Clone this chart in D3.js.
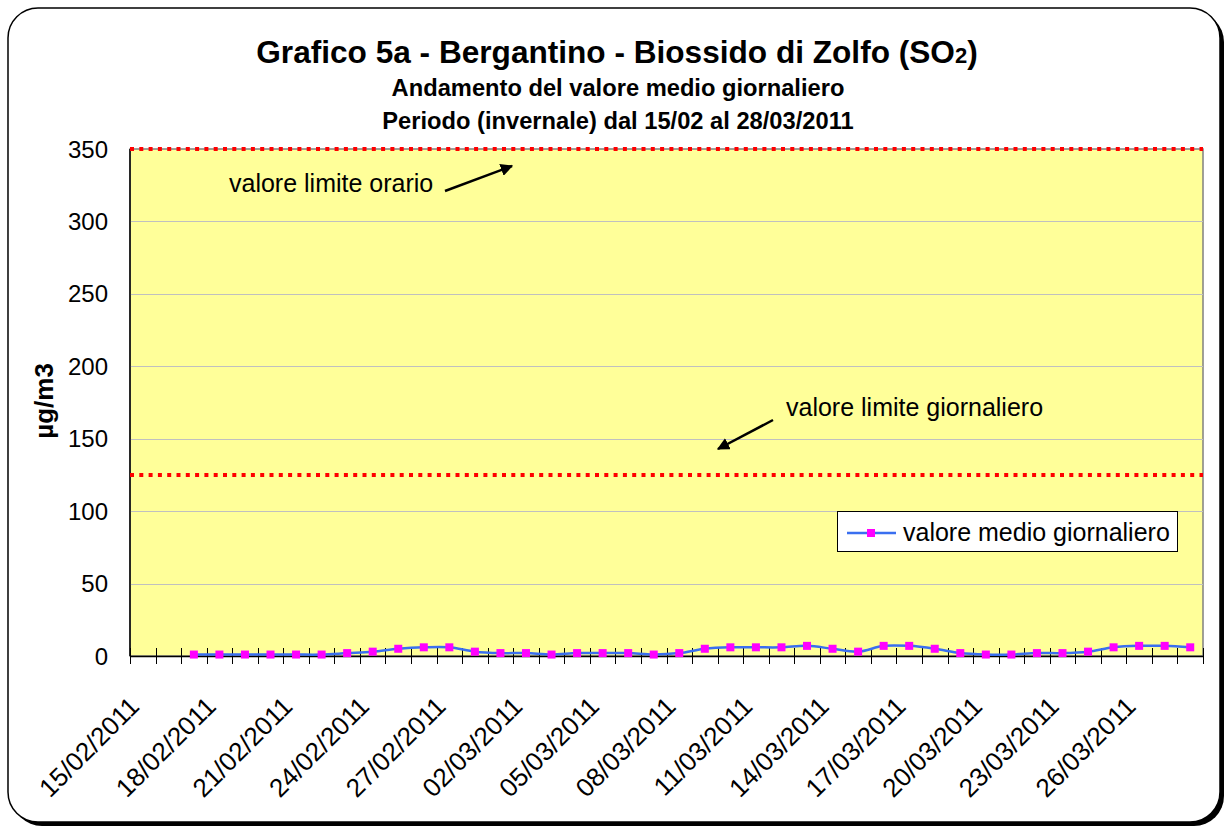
<!DOCTYPE html>
<html>
<head>
	<meta charset="utf-8">
	<title>Grafico 5a - Bergantino - SO2</title>
	<script src="https://cdn.jsdelivr.net/npm/d3@7"></script>
	<style type="text/css">
		body {
			margin: 0;
			background: #ffffff;
		}
		text {
			font-family: "Liberation Sans", Arial, sans-serif;
			fill: #000000;
		}
		.grid line {
			stroke: #c0c0c0;
			stroke-width: 1;
			shape-rendering: crispEdges;
		}
	</style>
</head>
<body>
	<script type="text/javascript">
		// categorie (giorni) e valori medi giornalieri
		var days = ["15/02/2011", "16/02/2011", "17/02/2011", "18/02/2011", "19/02/2011", "20/02/2011",
			"21/02/2011", "22/02/2011", "23/02/2011", "24/02/2011", "25/02/2011", "26/02/2011",
			"27/02/2011", "28/02/2011", "01/03/2011", "02/03/2011", "03/03/2011", "04/03/2011",
			"05/03/2011", "06/03/2011", "07/03/2011", "08/03/2011", "09/03/2011", "10/03/2011",
			"11/03/2011", "12/03/2011", "13/03/2011", "14/03/2011", "15/03/2011", "16/03/2011",
			"17/03/2011", "18/03/2011", "19/03/2011", "20/03/2011", "21/03/2011", "22/03/2011",
			"23/03/2011", "24/03/2011", "25/03/2011", "26/03/2011", "27/03/2011", "28/03/2011"];
		var mediaGiornaliera = [null, null, 1, 1, 1, 1, 1, 1, 2, 3, 5, 6, 6, 3, 2, 2, 1, 2, 2, 2, 1,
			2, 5, 6, 6, 6, 7, 5, 3, 7, 7, 5, 2, 1, 1, 2, 2, 3, 6, 7, 7, 6];
		var tickLabels = ["15/02/2011", "18/02/2011", "21/02/2011", "24/02/2011", "27/02/2011",
			"02/03/2011", "05/03/2011", "08/03/2011", "11/03/2011", "14/03/2011", "17/03/2011",
			"20/03/2011", "23/03/2011", "26/03/2011"];
		var yTicks = [0, 50, 100, 150, 200, 250, 300, 350];
		var limiteOrario = 350,
			limiteGiornaliero = 125;

		var width = 1229,
			height = 829,
			plotLeft = 130,
			plotRight = 1203,
			plotTop = 149,
			plotBottom = 656;

		var svg = d3.select("body")
					.append("svg")
					.attr("width", width)
					.attr("height", height);

		// cornice con ombra
		svg.append("rect")
			.attr("x", 12).attr("y", 12)
			.attr("width", 1212).attr("height", 814)
			.attr("rx", 30).attr("ry", 30)
			.style("fill", "#000000");
		svg.append("rect")
			.attr("x", 8).attr("y", 8)
			.attr("width", 1212).attr("height", 814)
			.attr("rx", 30).attr("ry", 30)
			.style("fill", "#ffffff")
			.style("stroke", "#000000")
			.style("stroke-width", 1.5);

		var xScale = d3.scaleBand()
			.domain(days)
			.range([plotLeft, plotRight]);
		var yScale = d3.scaleLinear()
			.domain([0, 350])
			.range([plotBottom, plotTop]);

		// area del grafico
		svg.append("rect")
			.attr("x", plotLeft).attr("y", plotTop)
			.attr("width", plotRight - plotLeft).attr("height", plotBottom - plotTop)
			.style("fill", "#ffff99")
			.style("stroke", "#808080")
			.style("stroke-width", 1.5);

		svg.append("g")
			.attr("class", "grid")
			.selectAll("line")
			.data(yTicks.filter(function (d) { return d > 0 && d < 350; }))
			.enter()
			.append("line")
			.attr("x1", plotLeft).attr("x2", plotRight)
			.attr("y1", function (d) { return Math.round(yScale(d)) + 0.5; })
			.attr("y2", function (d) { return Math.round(yScale(d)) + 0.5; });

		// asse y
		svg.append("line")
			.attr("x1", plotLeft).attr("x2", plotLeft)
			.attr("y1", plotTop).attr("y2", plotBottom)
			.style("stroke", "#000000")
			.style("stroke-width", 1.5);
		svg.append("g")
			.selectAll("text")
			.data(yTicks)
			.enter()
			.append("text")
			.attr("x", 108)
			.attr("y", function (d) { return yScale(d); })
			.attr("dy", "0.36em")
			.attr("text-anchor", "end")
			.style("font-size", "24px")
			.text(function (d) { return d; });
		svg.append("text")
			.attr("transform", "translate(53, 401) rotate(-90)")
			.attr("text-anchor", "middle")
			.style("font-size", "26px")
			.style("font-weight", "bold")
			.text("µg/m3");

		// linee limite
		svg.append("g")
			.selectAll("line")
			.data([limiteOrario, limiteGiornaliero])
			.enter()
			.append("line")
			.attr("x1", plotLeft).attr("x2", plotRight)
			.attr("y1", function (d) { return yScale(d); })
			.attr("y2", function (d) { return yScale(d); })
			.style("stroke", "#ff0000")
			.style("stroke-width", 4)
			.style("stroke-dasharray", "4,5.3");

		// asse x
		var xAxis = d3.axisBottom(xScale)
			.tickValues(tickLabels)
			.tickSize(0)
			.tickPadding(0);
		var xAxisG = svg.append("g")
			.attr("transform", "translate(0," + plotBottom + ")")
			.call(xAxis);
		xAxisG.select(".domain")
			.attr("stroke", "#000000")
			.attr("stroke-width", 1.5);
		xAxisG.selectAll(".tick text")
			.attr("y", 0)
			.attr("dy", 0)
			.attr("text-anchor", "end")
			.attr("transform", "translate(-2, 52) rotate(-45)")
			.style("font-size", "26px")
			.style("font-family", "\"Liberation Sans\", Arial, sans-serif")
			.attr("fill", "#000000");
		svg.append("g")
			.selectAll("line")
			.data(d3.range(days.length + 1))
			.enter()
			.append("line")
			.attr("x1", function (i) { return Math.round(plotLeft + i * xScale.step()) + 0.5; })
			.attr("x2", function (i) { return Math.round(plotLeft + i * xScale.step()) + 0.5; })
			.attr("y1", plotBottom - 8)
			.attr("y2", plotBottom + 8)
			.style("stroke", "#000000")
			.style("stroke-width", 1);

		// serie
		var punti = days.map(function (d, i) {
			return { day: d, value: mediaGiornaliera[i] };
		}).filter(function (d) { return d.value !== null; });

		var line = d3.line()
			.x(function (d) { return xScale(d.day) + xScale.bandwidth() / 2; })
			.y(function (d) { return yScale(d.value); })
			.curve(d3.curveCatmullRom);

		svg.append("path")
			.datum(punti)
			.attr("d", line)
			.style("fill", "none")
			.style("stroke", "#3a6ff0")
			.style("stroke-width", 2.5);

		svg.append("g")
			.selectAll("rect")
			.data(punti)
			.enter()
			.append("rect")
			.attr("x", function (d) { return xScale(d.day) + xScale.bandwidth() / 2 - 4; })
			.attr("y", function (d) { return yScale(d.value) - 4; })
			.attr("width", 8)
			.attr("height", 8)
			.style("fill", "#ff00ff");

		// annotazioni
		svg.append("defs")
			.append("marker")
			.attr("id", "freccia")
			.attr("viewBox", "0 0 10 10")
			.attr("refX", 9).attr("refY", 5)
			.attr("markerWidth", 5).attr("markerHeight", 5)
			.attr("orient", "auto")
			.append("path")
			.attr("d", "M0,0 L10,5 L0,10 z")
			.style("fill", "#000000");

		svg.append("text")
			.attr("x", 229).attr("y", 192)
			.style("font-size", "25px")
			.text("valore limite orario");
		svg.append("line")
			.attr("x1", 445).attr("y1", 191)
			.attr("x2", 512).attr("y2", 166)
			.style("stroke", "#000000")
			.style("stroke-width", 2.5)
			.attr("marker-end", "url(#freccia)");

		svg.append("text")
			.attr("x", 786).attr("y", 416)
			.style("font-size", "25px")
			.text("valore limite giornaliero");
		svg.append("line")
			.attr("x1", 773).attr("y1", 420)
			.attr("x2", 718).attr("y2", 449)
			.style("stroke", "#000000")
			.style("stroke-width", 2.5)
			.attr("marker-end", "url(#freccia)");

		// legenda
		var legend = svg.append("g");
		legend.append("rect")
			.attr("x", 837.5).attr("y", 511.5)
			.attr("width", 340).attr("height", 40)
			.style("fill", "#ffffff")
			.style("stroke", "#000000")
			.style("stroke-width", 1);
		legend.append("line")
			.attr("x1", 847).attr("x2", 896)
			.attr("y1", 533).attr("y2", 533)
			.style("stroke", "#3a6ff0")
			.style("stroke-width", 2.5);
		legend.append("rect")
			.attr("x", 867).attr("y", 529)
			.attr("width", 8).attr("height", 8)
			.style("fill", "#ff00ff");
		legend.append("text")
			.attr("x", 903).attr("y", 541)
			.style("font-size", "25px")
			.text("valore medio giornaliero");

		// titoli
		var title = svg.append("text")
			.attr("x", 617).attr("y", 63)
			.attr("text-anchor", "middle")
			.style("font-size", "31.6px")
			.style("font-weight", "bold");
		title.append("tspan").text("Grafico 5a - Bergantino - Biossido di Zolfo (SO");
		title.append("tspan").style("font-size", "22px").text("2");
		title.append("tspan").text(")");

		svg.append("text")
			.attr("x", 618).attr("y", 96)
			.attr("text-anchor", "middle")
			.style("font-size", "23.7px")
			.style("font-weight", "bold")
			.text("Andamento del valore medio giornaliero");
		svg.append("text")
			.attr("x", 618).attr("y", 129)
			.attr("text-anchor", "middle")
			.style("font-size", "23.7px")
			.style("font-weight", "bold")
			.text("Periodo (invernale) dal 15/02 al 28/03/2011");
	</script>
</body>
</html>
